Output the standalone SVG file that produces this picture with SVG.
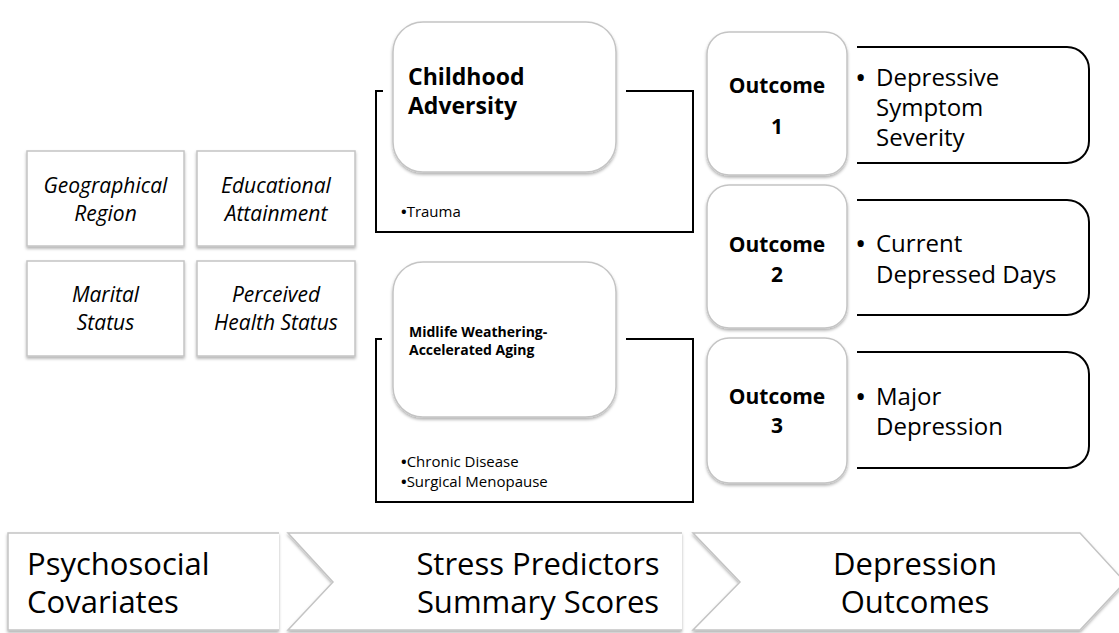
<svg xmlns="http://www.w3.org/2000/svg" width="1119" height="633" viewBox="0 0 1119 633">
<style>
text{font-family:"Open Sans","Liberation Sans",sans-serif;fill:#000}
.cov{font-style:italic;font-size:21px;text-anchor:middle}
.gbox{fill:#fff;stroke:#c4c4c4;stroke-width:1.5;filter:url(#sh)}
.blk{fill:none;stroke:#000;stroke-width:2}
.hd{font-weight:bold}
.oc{font-weight:bold;font-size:21px;text-anchor:middle}
.ot{font-size:24px}
.bul{font-size:30px}
.sm{font-size:15px}
.sb{font-weight:bold}
.chev{fill:#fff;stroke:#c4c4c4;stroke-width:1.5;filter:url(#sh)}
.big{font-size:31px}
</style>
<defs>
<filter id="sh" x="-10%" y="-10%" width="120%" height="130%">
<feDropShadow dx="0" dy="2" stdDeviation="1.5" flood-color="#000" flood-opacity="0.3"/>
</filter>
</defs>

<g id="connectors">
<path class="blk" d="M383 91 H376 V232 H693 V91 H626"/>
<path class="blk" d="M382 339 H376 V502 H693 V339 H626"/>
</g>

<g id="cov-geo"><rect class="gbox" x="27" y="151" width="157" height="95"/>
<text class="cov" x="105.5" y="193">Geographical</text><text class="cov" x="105.5" y="221">Region</text></g>
<g id="cov-edu"><rect class="gbox" x="197" y="151" width="158" height="95"/>
<text class="cov" x="276" y="193">Educational</text><text class="cov" x="276" y="221">Attainment</text></g>
<g id="cov-mar"><rect class="gbox" x="27" y="261" width="157" height="95"/>
<text class="cov" x="105.5" y="302">Marital</text><text class="cov" x="105.5" y="330">Status</text></g>
<g id="cov-health"><rect class="gbox" x="197" y="261" width="158" height="95"/>
<text class="cov" x="276" y="302">Perceived</text><text class="cov" x="276" y="330">Health Status</text></g>

<g id="childhood">
<rect class="gbox" x="393" y="22" width="223" height="150" rx="30"/>
<text class="hd" x="408" y="85" font-size="23">Childhood</text>
<text class="hd" x="408" y="114" font-size="23">Adversity</text>
<text class="sm" x="401" y="217"><tspan class="sb">•</tspan>Trauma</text>
</g>

<g id="midlife">
<rect class="gbox" x="393" y="262" width="223" height="155" rx="30"/>
<text class="hd" x="409" y="337" font-size="14">Midlife Weathering-</text>
<text class="hd" x="409" y="355" font-size="14">Accelerated Aging</text>
<text class="sm" x="401" y="467"><tspan class="sb">•</tspan>Chronic Disease</text>
<text class="sm" x="401" y="487"><tspan class="sb">•</tspan>Surgical Menopause</text>
</g>

<g id="outcome1">
<path class="blk" d="M857 47 H1067 A22 22 0 0 1 1089 69 V141 A22 22 0 0 1 1067 163 H857"/>
<rect class="gbox" x="707" y="32" width="140" height="143" rx="22"/>
<text class="oc" x="777" y="93">Outcome</text><text class="oc" x="777" y="134">1</text>
<text class="bul" x="855" y="88">•</text>
<text class="ot" x="876" y="86">Depressive</text>
<text class="ot" x="876" y="116">Symptom</text>
<text class="ot" x="876" y="146">Severity</text>
</g>

<g id="outcome2">
<path class="blk" d="M857 200 H1067 A22 22 0 0 1 1089 222 V293 A22 22 0 0 1 1067 315 H857"/>
<rect class="gbox" x="707" y="185" width="140" height="143" rx="22"/>
<text class="oc" x="777" y="252">Outcome</text><text class="oc" x="777" y="282">2</text>
<text class="bul" x="855" y="254">•</text>
<text class="ot" x="876" y="252">Current</text>
<text class="ot" x="876" y="283">Depressed Days</text>
</g>

<g id="outcome3">
<path class="blk" d="M857 352 H1067 A22 22 0 0 1 1089 374 V446 A22 22 0 0 1 1067 468 H857"/>
<rect class="gbox" x="707" y="338" width="140" height="145" rx="22"/>
<text class="oc" x="777" y="404">Outcome</text><text class="oc" x="777" y="433">3</text>
<text class="bul" x="855" y="407">•</text>
<text class="ot" x="876" y="405">Major</text>
<text class="ot" x="876" y="435">Depression</text>
</g>

<g id="stage1">
<path class="chev" d="M279 533 H8 V630 H279"/>
<text class="big" x="27" y="575">Psychosocial</text>
<text class="big" x="27" y="613">Covariates</text>
</g>
<g id="stage2">
<path class="chev" d="M682 533 H288 L333 582 L288 630 H682"/>
<text class="big" x="538" y="575" text-anchor="middle">Stress Predictors</text>
<text class="big" x="538" y="613" text-anchor="middle">Summary Scores</text>
</g>
<g id="stage3">
<path class="chev" d="M693 533 L740 582 L693 630 H1080 L1125 582 L1080 533 Z"/>
<text class="big" x="915" y="575" text-anchor="middle">Depression</text>
<text class="big" x="915" y="613" text-anchor="middle">Outcomes</text>
</g>
</svg>
